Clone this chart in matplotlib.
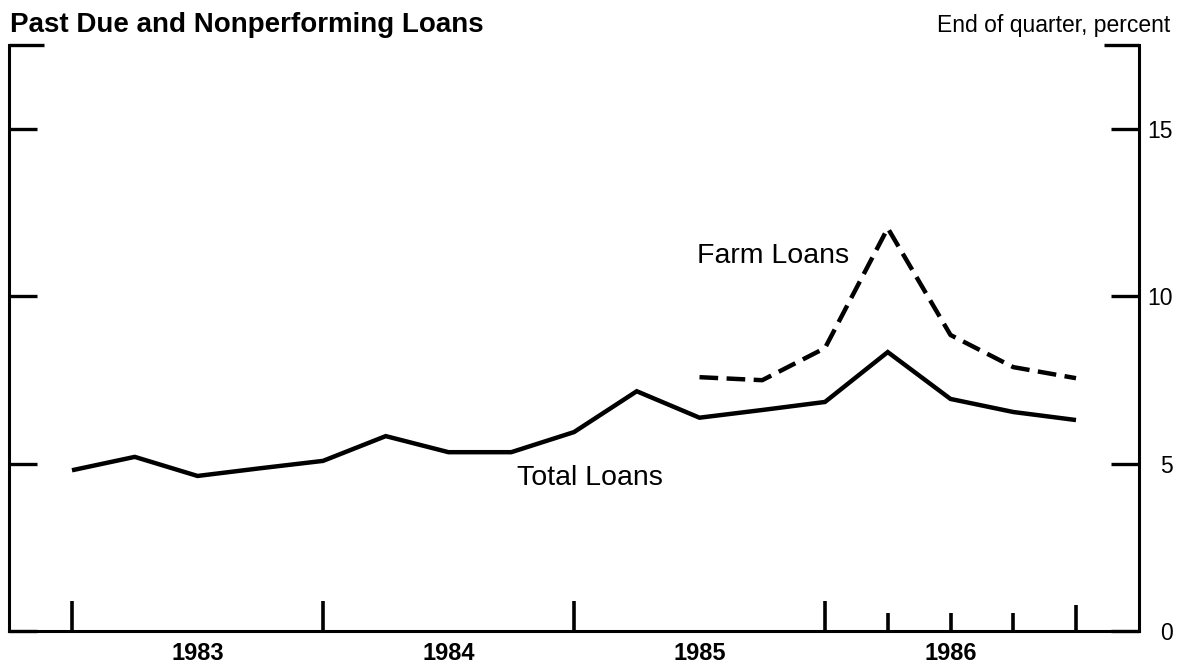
import matplotlib
matplotlib.use("Agg")
import matplotlib.pyplot as plt

plt.rcParams['font.family'] = ['Liberation Sans', 'DejaVu Sans']

# Quarter-end index 0 = 1982 Q4 ... 16 = 1986 Q4
quarters = list(range(17))
total_loans = [4.80, 5.20, 4.63, 4.86, 5.08, 5.82, 5.34, 5.34, 5.94,
               7.16, 6.37, 6.60, 6.84, 8.33, 6.93, 6.54, 6.30]
farm_quarters = list(range(10, 17))
farm_loans = [7.58, 7.49, 8.45, 12.03, 8.84, 7.88, 7.55]

year_labels = ["1983", "1984", "1985", "1986"]
year_label_pos = [2, 6, 10, 14]
year_ticks = [0, 4, 8, 12]
quarter_ticks = [13, 14, 15, 16]
y_ticks = [0, 5, 10, 15]
y_ticklabels = ["0", "5", "10", "15"]

W, H = 1189, 668
fig = plt.figure(figsize=(W / 100, H / 100), dpi=100)
ax = fig.add_axes([9.25 / W, (H - 631) / H, (1138.75 - 9.25) / W, (631 - 45) / H])

ax.plot(quarters, total_loans, color='black', lw=3.2, solid_joinstyle='miter',
        solid_capstyle='butt')
ax.plot(farm_quarters, farm_loans, color='black', lw=3.2,
        linestyle=(0, (4.2, 1.9)), dash_capstyle='butt')

ax.set_xlim(-1, 17)
ax.set_ylim(0, 17.5)

for s in ['left', 'right', 'bottom']:
    ax.spines[s].set_linewidth(2.2)
ax.spines['top'].set_visible(False)

# y ticks
ax.set_yticks(y_ticks)
ax.set_yticklabels(y_ticklabels)
ax.set_yticks([17.5], minor=True)
ax.tick_params(axis='y', which='both', direction='in', left=True, right=True,
               labelleft=False, labelright=True, width=2.4)
ax.tick_params(axis='y', which='major', length=20, labelsize=16.5, pad=24.5)
ax.tick_params(axis='y', which='minor', length=25.5)
for lab in ax.get_yticklabels():
    lab.set_horizontalalignment('right')

# x ticks
ax.set_xticks(year_ticks)
ax.set_xticklabels([])
ax.set_xticks(quarter_ticks, minor=True)
ax.tick_params(axis='x', which='both', direction='in', bottom=True, top=False,
               width=2.6)
ax.tick_params(axis='x', which='major', length=21.6)
ax.tick_params(axis='x', which='minor', length=13)
mt = ax.xaxis.get_minor_ticks()
mt[3].tick1line.set_markersize(18.7)

for pos, lab in zip(year_label_pos, year_labels):
    ax.annotate(lab, xy=(pos, 0), xycoords=('data', 'axes fraction'),
                xytext=(0, -21), textcoords='offset points',
                ha='center', va='baseline', fontsize=17, fontweight='bold')

ax.text(9.96, 10.99, "Farm Loans", fontsize=20.5, ha='left', va='baseline')
ax.text(7.09, 4.36, "Total Loans", fontsize=20.5, ha='left', va='baseline')

fig.text(10 / W, (H - 32) / H, "Past Due and Nonperforming Loans",
         fontsize=20, fontweight='bold', ha='left', va='baseline')
fig.text(1170 / W, (H - 32) / H, "End of quarter, percent",
         fontsize=16.5, ha='right', va='baseline')

fig.savefig("out.png", dpi=100)
